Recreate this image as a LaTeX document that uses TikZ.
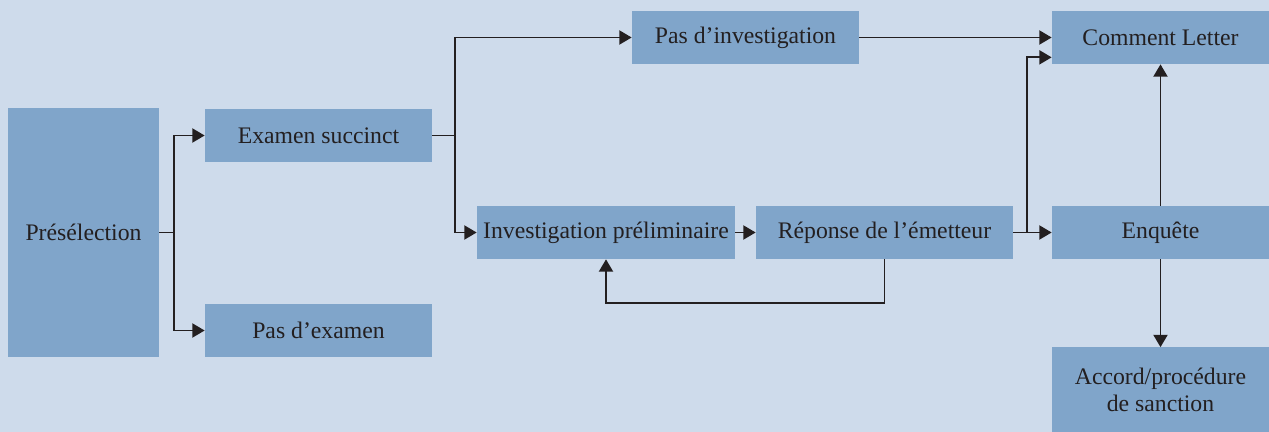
\documentclass[tikz,border=0pt]{standalone}
\usepackage{fontspec}
\setmainfont{Liberation Serif}
\usetikzlibrary{arrows.meta,calc}
\definecolor{bgc}{HTML}{CEDBEB}
\definecolor{boxc}{HTML}{80A5CA}
\definecolor{ink}{HTML}{231F20}
\begin{document}
\begin{tikzpicture}[x=0.02cm,y=-0.02cm,
  box/.style={fill=boxc,inner sep=0pt,text=ink,align=center,
    font=\fontsize{13.5}{15.5}\selectfont},
  arr/.style={draw=ink,line width=1pt,-{Triangle[length=7pt,width=8pt]}}]
\fill[bgc] (0,0) rectangle (1269,432);
\useasboundingbox (0,0) rectangle (1269,432);
\node[box,minimum width=151*0.02cm,minimum height=249*0.02cm] (pre) at (83.5,232.5) {Présélection};
\node[box,minimum width=227*0.02cm,minimum height=53*0.02cm] (exa) at (318.5,135.5) {Examen succinct};
\node[box,minimum width=227*0.02cm,minimum height=53*0.02cm] (pex) at (318.5,330.5) {Pas d’examen};
\node[box,minimum width=227*0.02cm,minimum height=53*0.02cm] (pin) at (745.5,37.5) {Pas d’investigation};
\node[box,minimum width=258*0.02cm,minimum height=53*0.02cm] (ipr) at (606,232.5) {Investigation préliminaire};
\node[box,minimum width=257*0.02cm,minimum height=53*0.02cm] (rep) at (884.5,232.5) {Réponse de l’émetteur};
\node[box,minimum width=217*0.02cm,minimum height=53*0.02cm] (com) at (1160.5,37.5) {Comment Letter};
\node[box,minimum width=217*0.02cm,minimum height=53*0.02cm] (enq) at (1160.5,232.5) {Enquête};
\node[box,minimum width=217*0.02cm,minimum height=85*0.02cm] (acc) at (1160.5,390) {Accord/procédure\\de sanction};
% connectors
\draw[arr] (pre.east) -- ++(15,0) |- (exa.west);
\draw[arr] (pre.east) -- ++(15,0) |- (pex.west);
\draw[arr] (exa.east) -- ++(23,0) |- (pin.west);
\draw[arr] (exa.east) -- ++(23,0) |- (ipr.west);
\draw[arr] (pin.east) -- (com.west);
\draw[arr] (ipr.east) -- (rep.west);
\draw[arr] (rep.east) -- (enq.west);
\coordinate (cl2) at ($(com.south west)+(0,-7)$);
\draw[arr] (rep.east) -- ++(14,0) |- (cl2);
\draw[arr] (enq.north) -- (com.south);
\draw[arr] (enq.south) -- (acc.north);
\draw[arr] (rep.south) -- ++(0,44) -| (ipr.south);
\end{tikzpicture}
\end{document}
